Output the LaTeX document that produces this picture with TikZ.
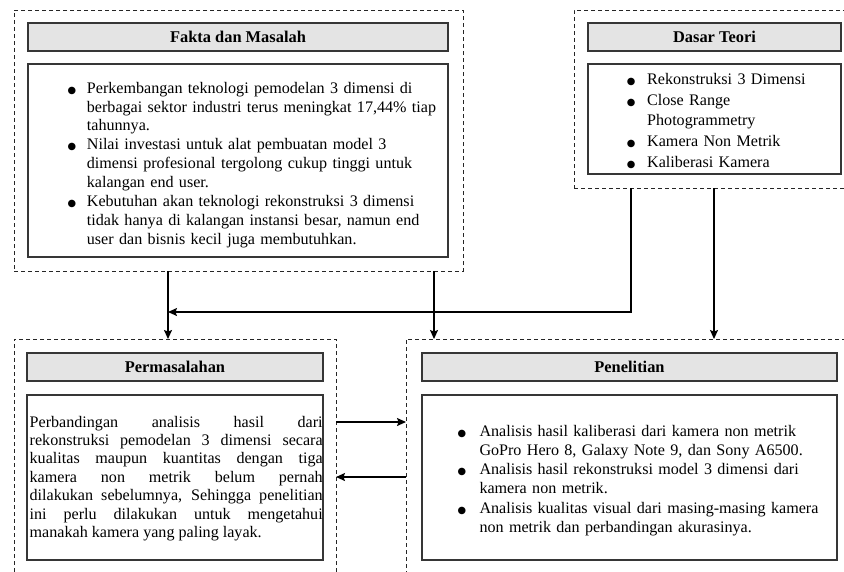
\documentclass[tikz,border=0pt]{standalone}
\usepackage{fontspec}
\setmainfont{Liberation Serif}
\newfontfamily\symfont{DejaVu Sans}
\usetikzlibrary{arrows.meta}
\definecolor{titlegray}{HTML}{E4E4E4}
\definecolor{edgegray}{HTML}{363636}
\newcommand\bitem[1]{\par\hangindent=#1\hangafter=1\noindent\makebox[#1][l]{\makebox[0pt][c]{\symfont\fontsize{9.8}{9.8}\selectfont ●}}}
\begin{document}
\begin{tikzpicture}[x=1pt,y=-1pt,
  outer/.style={draw=black!85, dash pattern=on 4pt off 3pt, line width=0.9pt, inner sep=0pt, outer sep=0pt},
  titlebox/.style={draw=edgegray, fill=titlegray, line width=1.4pt, inner sep=0pt, outer sep=0pt, font=\bfseries\fontsize{16.4}{19}\selectfont},
  contentbox/.style={draw=edgegray, line width=1.4pt, inner sep=0pt, outer sep=0pt},
  txt/.style={inner sep=0pt, anchor=west, align=left, font=\fontsize{16.1}{19}\selectfont},
  arr/.style={line width=1.3pt, -{Stealth[length=9pt,width=8pt,inset=1.5pt]}}]
\useasboundingbox (0,0) rectangle (844,571);
\clip (0,0) rectangle (844,571);
% outer dashed groups
\node[outer, minimum width=449pt, minimum height=261pt] (fakta) at (238.5,140.5) {};
\node[outer, minimum width=296pt, minimum height=178pt] (dasar) at (722,99) {};
\node[outer, minimum width=322pt, minimum height=261pt] (perm) at (175,469.5) {};
\node[outer, minimum width=464pt, minimum height=261pt] (pen) at (638,469.5) {};
% titles
\node[titlebox, minimum width=420pt, minimum height=28pt] (faktaT) at (238,37) {Fakta dan Masalah};
\node[titlebox, minimum width=253pt, minimum height=28pt] (dasarT) at (714.5,37) {Dasar Teori};
\node[titlebox, minimum width=296pt, minimum height=28pt] (permT) at (175,367) {Permasalahan};
\node[titlebox, minimum width=415pt, minimum height=28pt] (penT) at (629.5,367) {Penelitian};
% content boxes
\node[contentbox, minimum width=420pt, minimum height=193pt] (faktaC) at (238,160.5) {};
\node[contentbox, minimum width=253pt, minimum height=110pt] (dasarC) at (714.5,119) {};
\node[contentbox, minimum width=296pt, minimum height=165pt] (permC) at (175,477.5) {};
\node[contentbox, minimum width=415pt, minimum height=165pt] (penC) at (629.5,477.5) {};
% texts
\node[txt, text width=400pt, font=\fontsize{16.1}{18.9}\selectfont] (faktaX) at (71.7,161) {%
\bitem{15pt}Perkembangan teknologi pemodelan 3 dimensi di\newline berbagai sektor industri terus meningkat 17,44\% tiap\newline tahunnya.
\bitem{15pt}Nilai investasi untuk alat pembuatan model 3\newline dimensi profesional tergolong cukup tinggi untuk\newline kalangan end user.
\bitem{15pt}Kebutuhan akan teknologi rekonstruksi 3 dimensi\newline tidak hanya di kalangan instansi besar, namun end\newline user dan bisnis kecil juga membutuhkan.\par};
\node[txt, text width=230pt, font=\fontsize{16.1}{20.8}\selectfont] (dasarX) at (631,116) {%
\bitem{16pt}Rekonstruksi 3 Dimensi
\bitem{16pt}Close Range\newline Photogrammetry
\bitem{16pt}Kamera Non Metrik
\bitem{16pt}Kaliberasi Kamera\par};
\node[txt, text width=293pt, font=\fontsize{16.1}{18.4}\selectfont] (permX) at (29.5,478.5) {%
\spaceskip=0pt\xspaceskip=0pt
\makebox[293pt][s]{Perbandingan analisis hasil dari}\\
\makebox[293pt][s]{rekonstruksi pemodelan 3 dimensi secara}\\
\makebox[293pt][s]{kualitas maupun kuantitas dengan tiga}\\
\makebox[293pt][s]{kamera non metrik belum pernah}\\
\makebox[293pt][s]{dilakukan sebelumnya, Sehingga penelitian}\\
\makebox[293pt][s]{ini perlu dilakukan untuk mengetahui}\\
manakah kamera yang paling layak.};
\node[txt, text width=400pt, font=\fontsize{16.1}{19.2}\selectfont] (penX) at (461.7,476.5) {%
\bitem{17.6pt}Analisis hasil kaliberasi dari kamera non metrik\newline GoPro Hero 8, Galaxy Note 9, dan Sony A6500.
\bitem{17.6pt}Analisis hasil rekonstruksi model 3 dimensi dari\newline kamera non metrik.
\bitem{17.6pt}Analisis kualitas visual dari masing-masing kamera\newline non metrik dan perbandingan akurasinya.\par};
% connectors
\coordinate (c1) at (168,0);
\coordinate (c2) at (434,0);
\coordinate (c3) at (631,312);
\coordinate (c4) at (714,0);
\coordinate (c5) at (0,422);
\coordinate (c6) at (0,477);
\draw[arr] (fakta.south -| c1) -- (perm.north -| c1);
\draw[arr] (fakta.south -| c2) -- (pen.north -| c2);
\draw[arr] (dasar.south -| c3) -- (c3) -- (c1 |- c3);
\draw[arr] (dasar.south -| c4) -- (pen.north -| c4);
\draw[arr] (perm.east |- c5) -- (pen.west |- c5);
\draw[arr] (pen.west |- c6) -- (perm.east |- c6);
\end{tikzpicture}
\end{document}
